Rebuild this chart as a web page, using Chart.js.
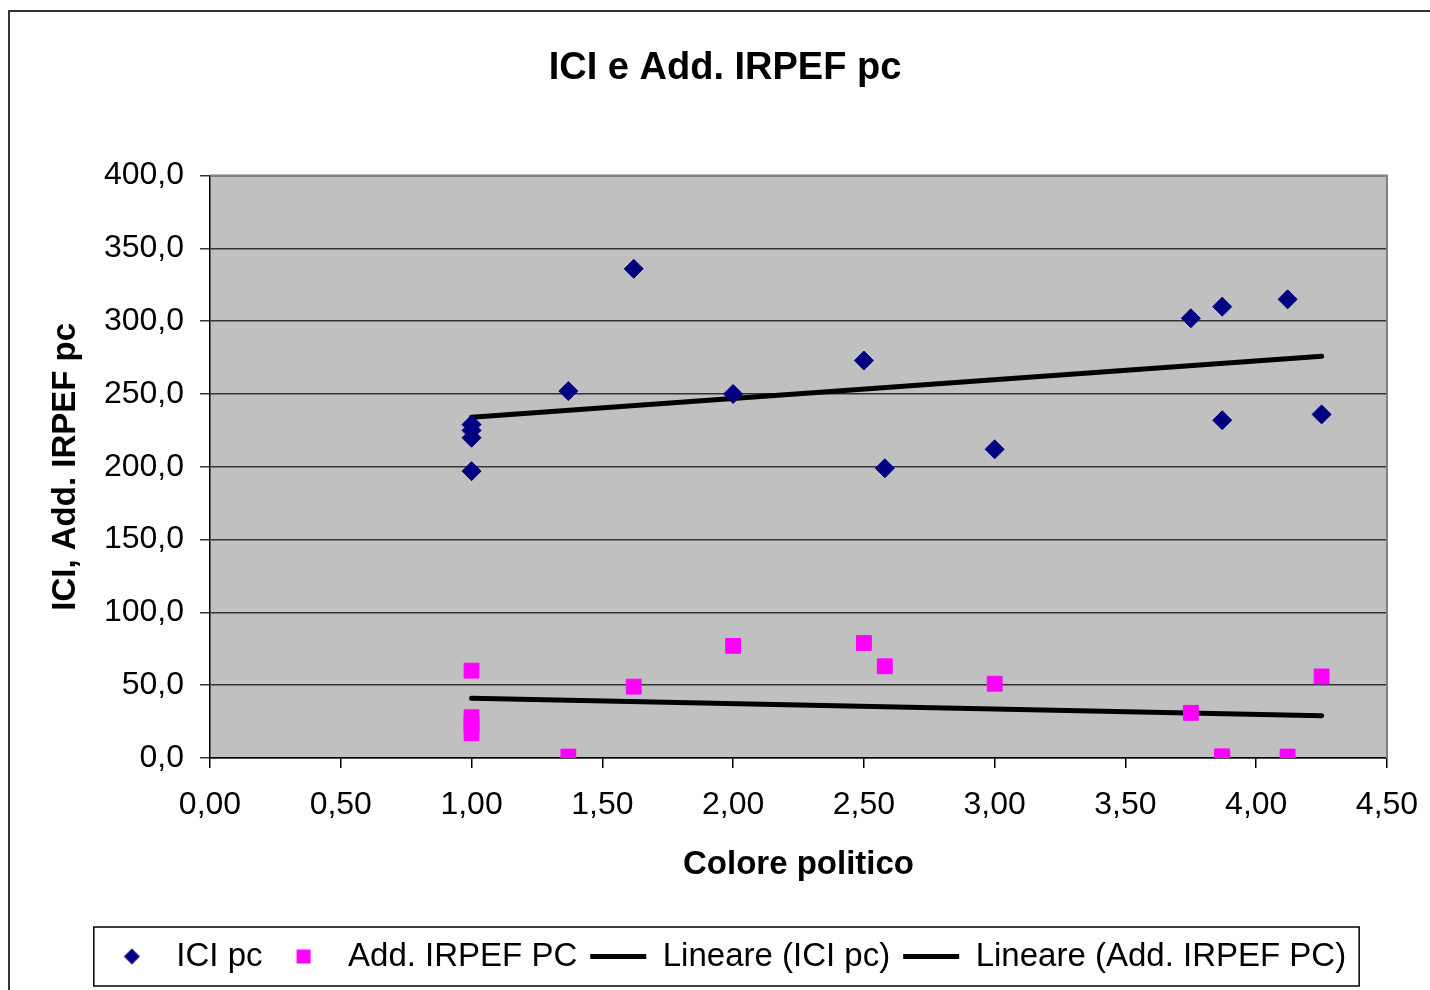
<!DOCTYPE html>
<html>
<head>
<meta charset="utf-8">
<script src="https://cdn.jsdelivr.net/npm/chart.js@4/dist/chart.umd.min.js"></script>
<style>
  html, body { margin: 0; padding: 0; background: #fff; }
  #wrap { width: 1430px; height: 990px; position: relative; }
</style>
</head>
<body>
<div id="wrap"><canvas id="chart"></canvas></div>
<script>
// valori
const colore = [1.00, 1.00, 1.00, 1.00, 1.37, 1.62, 2.00, 2.50, 2.58, 3.00, 3.75, 3.87, 3.87, 4.12, 4.25]
const iciPc = [229, 225, 220, 197, 252, 336, 250, 273, 199, 212, 302, 310, 232, 315, 236]
const addIrpefPc = [60, 28, 23, 17, 1, 49, 77, 79, 63, 51, 31, 1, 1, 1, 56]

const trendX = [1.00, 4.25]
const iciTrend = [234, 276]
const addTrend = [41, 29]

const yTicks = [0, 50, 100, 150, 200, 250, 300, 350, 400]
const xTicks = [0, 0.5, 1, 1.5, 2, 2.5, 3, 3.5, 4, 4.5]

const toPoints = (xs, ys) => xs.map((x, i) => ({x: x, y: ys[i]}))
const fontName = "'Liberation Sans', Arial, sans-serif"

// piccoli simboli per la legenda (non stirati dalla larghezza della linea)
const makeMarker = (kind, color) => {
    let c = document.createElement('canvas')
    c.width = 18
    c.height = 18
    let g = c.getContext('2d')
    g.fillStyle = color
    if (kind === 'diamond') {
        g.beginPath()
        g.moveTo(9, 1)
        g.lineTo(17, 9)
        g.lineTo(9, 17)
        g.lineTo(1, 9)
        g.closePath()
        g.fill()
    } else {
        g.fillRect(2, 2, 14, 14)
    }
    return c
}
const legendMarkers = [makeMarker('diamond', '#000080'), makeMarker('square', '#FF00FF')]

// sfondo grigio dell'area del grafico + bordi
const plotBg = {
    id: 'plotBg',
    beforeDraw: chart => {
        const {ctx, chartArea} = chart
        ctx.save()
        ctx.fillStyle = '#C0C0C0'
        ctx.fillRect(chartArea.left, chartArea.top, chartArea.right - chartArea.left, chartArea.bottom - chartArea.top)
        ctx.restore()
    },
    beforeDatasetsDraw: chart => {
        const {ctx, chartArea} = chart
        ctx.save()
        ctx.strokeStyle = '#808080'
        ctx.lineWidth = 2
        ctx.beginPath()
        ctx.moveTo(chartArea.left, chartArea.top)
        ctx.lineTo(chartArea.right, chartArea.top)
        ctx.lineTo(chartArea.right, chartArea.bottom)
        ctx.stroke()
        ctx.restore()
    },
    afterDraw: chart => {
        const ctx = chart.ctx
        ctx.save()
        // cornice esterna
        ctx.strokeStyle = '#333'
        ctx.lineWidth = 2
        ctx.strokeRect(9, 11, 1440, 1000)
        // riquadro legenda
        const boxes = chart.legend.legendHitBoxes
        if (boxes && boxes.length) {
            const left = Math.min(...boxes.map(b => b.left))
            const right = Math.max(...boxes.map(b => b.left + b.width))
            const mid = boxes[0].top + boxes[0].height / 2
            ctx.strokeStyle = '#000'
            ctx.lineWidth = 1.5
            ctx.strokeRect(left - 10, mid - 29.5, right - left + 23, 59)
        }
        ctx.restore()
    }
}

new Chart(document.getElementById('chart'), {
    type: 'scatter',
    data: {
        datasets: [
            {
                label: 'ICI pc',
                data: toPoints(colore, iciPc),
                pointStyle: 'rectRot',
                pointRadius: 9.5,
                backgroundColor: '#000080',
                borderColor: '#000080',
                pointBorderWidth: 1
            },
            {
                label: 'Add. IRPEF PC',
                data: toPoints(colore, addIrpefPc),
                pointStyle: 'rect',
                pointRadius: 10.5,
                backgroundColor: '#FF00FF',
                borderColor: '#FF00FF',
                pointBorderWidth: 1
            },
            {
                label: 'Lineare (ICI pc)',
                type: 'line',
                data: toPoints(trendX, iciTrend),
                showLine: true,
                borderColor: '#000',
                borderWidth: 5,
                borderCapStyle: 'round',
                pointRadius: 0,
                pointStyle: 'line',
                pointBorderWidth: 5,
                pointBorderColor: '#000',
                fill: false
            },
            {
                label: 'Lineare (Add. IRPEF PC)',
                type: 'line',
                data: toPoints(trendX, addTrend),
                showLine: true,
                borderColor: '#000',
                borderWidth: 5,
                borderCapStyle: 'round',
                pointRadius: 0,
                pointStyle: 'line',
                pointBorderWidth: 5,
                pointBorderColor: '#000',
                fill: false
            }
        ]
    },
    options: {
        responsive: true,
        maintainAspectRatio: false,
        animation: false,
        layout: {padding: {left: 20, right: 0, top: 0, bottom: 7}},
        plugins: {
            title: {
                display: true,
                text: 'ICI e Add. IRPEF pc',
                color: '#000',
                font: {family: fontName, size: 38, weight: 'bold'},
                padding: {top: 46, bottom: 84}
            },
            legend: {
                position: 'bottom',
                labels: {
                    usePointStyle: true,
                    pointStyleWidth: 56,
                    boxHeight: 11,
                    padding: 13,
                    color: '#000',
                    font: {family: fontName, size: 33},
                    generateLabels: chart => {
                        const items = Chart.defaults.plugins.legend.labels.generateLabels(chart)
                        items.forEach((item, i) => {
                            if (legendMarkers[i]) item.pointStyle = legendMarkers[i]
                        })
                        return items
                    }
                }
            },
            tooltip: {enabled: false}
        },
        scales: {
            x: {
                type: 'linear',
                min: 0,
                max: 4.5,
                afterBuildTicks: scale => { scale.ticks = xTicks.map(v => ({value: v})) },
                afterFit: scale => { scale.height = 169; scale.paddingRight = 43 },
                ticks: {
                    color: '#000',
                    padding: 18,
                    font: {family: fontName, size: 32},
                    callback: v => v.toFixed(2).replace('.', ',')
                },
                grid: {drawOnChartArea: false, tickLength: 10, color: '#000', lineWidth: 1.5},
                border: {color: '#000', width: 1.5},
                title: {
                    display: true,
                    text: 'Colore politico',
                    color: '#000',
                    font: {family: fontName, size: 33, weight: 'bold'},
                    padding: {top: 0, bottom: 42}
                }
            },
            y: {
                min: 0,
                max: 400,
                afterBuildTicks: scale => { scale.ticks = yTicks.map(v => ({value: v})) },
                afterFit: scale => { scale.width = 190 },
                ticks: {
                    color: '#000',
                    padding: 16,
                    font: {family: fontName, size: 32},
                    callback: v => v.toFixed(1).replace('.', ',')
                },
                grid: {color: '#333', lineWidth: 1.5, tickLength: 10},
                border: {color: '#000', width: 1.5},
                title: {
                    display: true,
                    text: 'ICI, Add. IRPEF pc',
                    color: '#000',
                    font: {family: fontName, size: 33, weight: 'bold'},
                    padding: {top: 26, bottom: 0}
                }
            }
        }
    },
    plugins: [plotBg]
})
</script>
</body>
</html>
